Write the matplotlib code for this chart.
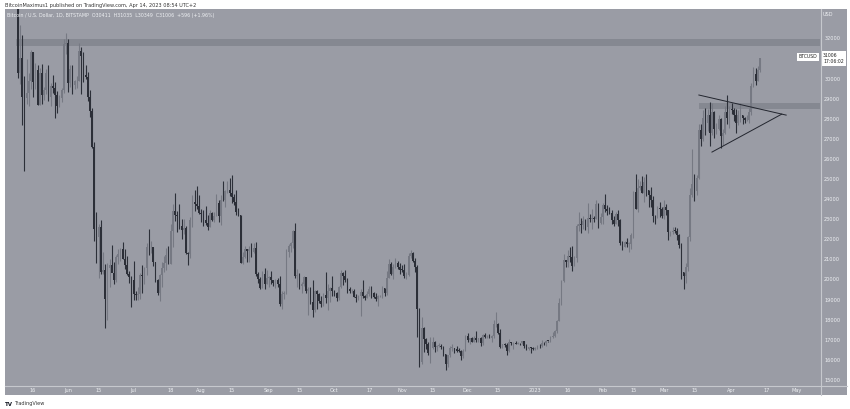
import numpy as np
import pandas as pd
import matplotlib
matplotlib.use("Agg")
import matplotlib.pyplot as plt
import matplotlib.dates as mdates
import matplotlib.transforms as mtransforms
from matplotlib.lines import Line2D
from matplotlib.patches import Rectangle

# BTCUSD daily (Bitstamp), 2022-05-09 .. 2023-04-14
first_open = 34060
closes = [
    # May
    30300, 31000, 29080, 29050, 29280, 29860, 31300, 29850, 30440, 28700, 30300, 29200, 29430, 30300,
    29100, 29650, 29530, 29200, 28620, 29030, 29450, 31700, 31780,
    # Jun
    29800, 30450, 29700, 29860, 29900, 31370, 31130, 30200, 30100, 29090, 28400, 26570, 22500, 22110,
    22600, 20390, 20470, 19020, 20560, 20700, 20300, 19960, 21100, 21250, 21500, 21030, 20730, 20260,
    20100, 19950,
    # Jul
    19290, 19250, 19300, 20230, 20190, 20560, 21640, 21600, 21600, 20850, 19970, 19320, 20220, 20580,
    20830, 21200, 20790, 22420, 23400, 23230, 23160, 22680, 22450, 22580, 21310, 21250, 22960, 23850,
    23780, 23640, 23300,
    # Aug
    23270, 22980, 22820, 22620, 23310, 22960, 23170, 23810, 23160, 23950, 23940, 24400, 24440, 24300,
    24100, 23860, 23340, 23200, 20830, 21140, 21520, 21400, 21530, 21370, 21560, 20250, 20030, 19560,
    20290, 19800, 20050,
    # Sep
    20130, 19960, 19830, 19990, 19800, 18800, 19290, 19320, 21360, 21650, 21830, 22400, 20180, 20220,
    19700, 19800, 20110, 19420, 19540, 18880, 18490, 19410, 19290, 18920, 18800, 19230, 19080, 19410,
    19590, 19420,
    # Oct
    19310, 19060, 19630, 20340, 20160, 19960, 19530, 19420, 19450, 19140, 19060, 19160, 19380, 19180,
    19070, 19270, 19550, 19330, 19130, 19040, 19170, 19200, 19570, 19330, 20090, 20770, 20290, 20600,
    20820, 20630, 20490,
    # Nov
    20480, 20150, 20210, 21150, 21300, 20900, 20600, 18550, 15900, 17600, 17050, 16800, 16330, 16600,
    16900, 16650, 16690, 16700, 16650, 16280, 15780, 16220, 16600, 16600, 16520, 16460, 16440, 16210,
    16440, 17170,
    # Dec
    16980, 17090, 16890, 17110, 16970, 17090, 16840, 17230, 17130, 17130, 17090, 17210, 17780, 17810,
    17360, 16630, 16780, 16740, 16440, 16900, 16820, 16830, 16780, 16840, 16830, 16920, 16700, 16550,
    16630, 16600, 16540,
    # Jan
    16610, 16680, 16670, 16850, 16830, 16950, 16940, 17120, 17180, 17440, 17940, 18850, 19930, 20950,
    20880, 21180, 21130, 20680, 21070, 22670, 22780, 22710, 22920, 22630, 23060, 23010, 23080, 23030,
    23750, 22830, 23130,
    # Feb
    23730, 23490, 23430, 23330, 22940, 22760, 23260, 22960, 21800, 21630, 21860, 21780, 21780, 22200,
    24330, 23520, 24570, 24630, 24300, 24840, 24440, 24190, 23940, 23180, 23150, 23560, 23490, 23140,
    # Mar
    23630, 23470, 22350, 22350, 22430, 22410, 22200, 21700, 20360, 20190, 20630, 22130, 24200, 24740,
    24380, 25050, 27420, 26970, 28030, 27800, 28200, 27300, 28320, 27480, 27480, 27990, 27130, 27270,
    28350, 28030, 28470,
    # Apr
    28450, 28200, 27800, 28170, 28170, 28040, 27920, 27950, 28330, 29650, 30230, 29890, 30411, 31006,
]
highs = [
    34250, 32650, 32150, 30150, 30970, 30300, 31400, 31300, 30780, 30660, 30520, 30730, 29600, 30450,
    30650, 29800, 30200, 29850, 29370, 29200, 29550, 31960, 32250,
    31960, 30650, 30670, 29930, 30150, 31750, 31560, 31320, 30680, 30330, 29440, 28550, 26860, 23340,
    22760, 22980, 21350, 20760, 20800, 21000, 21720, 20860, 21220, 21500, 21590, 21870, 21530, 21180,
    20400, 20150,
    20900, 19420, 19640, 20300, 20720, 20640, 21840, 22500, 21920, 21600, 20860, 20040, 20260, 20860,
    21170, 21560, 21650, 22740, 23750, 24280, 23430, 23750, 22990, 22990, 22650, 21350, 23100, 24200,
    24450, 24650, 24200,
    23500, 23460, 23650, 23220, 23460, 23350, 23370, 24230, 23940, 24210, 24900, 24460, 24880, 25050,
    25210, 24240, 24440, 23580, 23200, 21380, 21680, 21520, 21660, 21800, 21820, 21880, 20360, 20140,
    20400, 20560, 20480,
    20190, 20440, 19970, 20030, 20050, 20170, 19450, 19450, 21500, 21780, 21860, 22470, 22790, 20540,
    20320, 19870, 20170, 20100, 19650, 19630, 19950, 19490, 19480, 19310, 19180, 19310, 20360, 19770,
    19630, 20160,
    19480, 19390, 19700, 20470, 20370, 20450, 20060, 19610, 19520, 19530, 19270, 19220, 19510, 19950,
    19230, 19420, 19680, 19700, 19360, 19350, 19250, 19250, 19690, 19600, 20410, 21020, 20870, 20750,
    21080, 20930, 20840,
    20700, 20790, 20390, 21300, 21470, 21360, 21050, 20700, 18600, 18150, 17650, 17090, 16880, 17160,
    17120, 16960, 16740, 16860, 16800, 16690, 16300, 16250, 16700, 16810, 16600, 16680, 16600, 16480,
    16530, 17250,
    17320, 17100, 17150, 17200, 17430, 17100, 17140, 17300, 17350, 17230, 17270, 17240, 18000, 18390,
    17850, 17530, 16800, 16860, 16820, 17060, 16910, 16870, 16950, 16870, 16860, 16940, 16960, 16780,
    16650, 16640, 16640,
    16630, 16760, 16770, 16980, 16880, 17000, 16960, 17170, 17390, 17490, 17990, 19100, 19960, 21250,
    20990, 21450, 21630, 21650, 21190, 22740, 23380, 23080, 23160, 23000, 23800, 23270, 23500, 23170,
    23960, 23810, 23320,
    23790, 24250, 23700, 23590, 23440, 23160, 23340, 23440, 22990, 21930, 21900, 22080, 21880, 22310,
    24380, 25250, 25020, 24880, 25170, 25120, 25260, 24460, 24600, 24130, 23220, 23680, 23880, 23590,
    23960, 23780, 23480, 22420, 22610, 22600, 22540, 22270, 21820, 20360, 20800, 22180, 24570, 26500,
    25240, 25200, 27750, 27750, 28430, 28530, 28480, 28820, 28800, 28380, 27790, 28200, 28040, 27500,
    28650, 29170, 28650,
    28800, 28530, 28490, 28440, 28760, 28180, 28100, 28170, 28530, 29770, 30550, 30500, 30600, 31035,
]
lows = [
    30030, 29750, 27700, 25400, 28750, 28620, 29480, 29100, 29480, 28660, 28700, 28750, 28950, 29250,
    28880, 28650, 29300, 28020, 28280, 28570, 28850, 29300, 31200,
    29330, 29600, 29250, 29480, 29520, 29880, 29240, 29840, 29960, 28860, 28100, 26550, 21920, 20830,
    20070, 20250, 20250, 17600, 17970, 19650, 20360, 19780, 19900, 20780, 20910, 21000, 20520, 20200,
    19850, 18630,
    19000, 19000, 18960, 19050, 19320, 19760, 20240, 21220, 21340, 20670, 19880, 19240, 18920, 19630,
    20390, 20480, 20780, 20770, 21600, 22910, 22340, 22500, 22000, 22270, 21250, 20710, 21050, 22600,
    23420, 23500, 23250,
    22850, 22680, 22700, 22450, 22590, 22930, 22840, 23150, 22880, 22690, 23900, 23620, 24300, 24150,
    23790, 23700, 23200, 23140, 20800, 20760, 21060, 20890, 20870, 21140, 21320, 20150, 19840, 19550,
    19560, 19550, 19800,
    19650, 19760, 19680, 19600, 19650, 18660, 18540, 19020, 19300, 21130, 21360, 21570, 20060, 19620,
    19510, 19330, 19700, 19350, 18250, 18780, 18140, 18360, 18540, 18830, 18630, 18680, 18840, 18480,
    18860, 19170,
    19170, 18950, 19000, 19600, 19750, 19880, 19330, 19320, 19320, 19110, 18870, 18970, 18170, 19080,
    18990, 19060, 19160, 19100, 19070, 18930, 18660, 19120, 19080, 19160, 19240, 20060, 20200, 20000,
    20560, 20520, 20250,
    20350, 20050, 20040, 20180, 21080, 20890, 20390, 17150, 15650, 15800, 16400, 16550, 16250, 15820,
    16540, 16400, 16420, 16620, 16560, 16180, 15480, 15630, 16160, 16460, 16360, 16400, 16400, 16000,
    16110, 16430,
    16870, 16800, 16880, 16880, 16880, 16910, 16700, 16740, 17100, 17090, 17070, 16870, 17080, 17660,
    17280, 16580, 16590, 16660, 16260, 16400, 16720, 16560, 16780, 16780, 16730, 16790, 16600, 16470,
    16490, 16340, 16480,
    16500, 16550, 16600, 16660, 16750, 16690, 16910, 16910, 17100, 17150, 17320, 17910, 18720, 19900,
    20600, 20620, 20870, 20410, 20660, 20880, 22430, 22330, 22530, 22470, 22330, 22870, 22530, 22880,
    23020, 22570, 22740,
    22760, 23380, 23220, 23260, 22760, 22640, 22750, 22680, 21700, 21450, 21610, 21620, 21350, 21530,
    22050, 23510, 23340, 24460, 24290, 23860, 24150, 23600, 23630, 22850, 22780, 23080, 23120, 23040,
    23030, 23200, 21980, 22150, 22250, 22290, 21950, 21580, 20040, 19550, 19850, 20400, 21900, 24090,
    23920, 24200, 25020, 26660, 26880, 27180, 27400, 26640, 27170, 27040, 27220, 27450, 26560, 26670,
    27250, 27720, 27550,
    28260, 27880, 27280, 27680, 27830, 27720, 27770, 27870, 27800, 28170, 29600, 29670, 29860, 30349,
]

# drawings: resistance zones (low, high, start date) and triangle sides
zones = [(31600, 31980, "2022-05-08"), (28480, 28790, "2023-03-17")]
tri_upper_dates = ["2023-03-17", "2023-04-26"]
tri_upper_prices = [29180, 28180]
tri_lower_dates = ["2023-03-23", "2023-04-24"]
tri_lower_prices = [26340, 28230]

# 31000 sits under the last-price box on the scale
price_ticks = [p for p in range(15000, 33000, 1000) if p != 31000]
time_ticks = ["2022-05-16", "2022-06-01", "2022-06-15", "2022-07-01", "2022-07-18", "2022-08-01",
              "2022-08-15", "2022-09-01", "2022-09-15", "2022-10-01", "2022-10-17", "2022-11-01",
              "2022-11-15", "2022-12-01", "2022-12-15", "2023-01-01", "2023-01-16", "2023-02-01",
              "2023-02-15", "2023-03-01", "2023-03-15", "2023-04-01", "2023-04-17", "2023-05-01"]
time_labels = ["16", "Jun", "15", "Jul", "18", "Aug", "15", "Sep", "15", "Oct", "17", "Nov",
               "15", "Dec", "15", "2023", "16", "Feb", "15", "Mar", "15", "Apr", "17", "May"]

BG = "#9a9ca5"
UP = "#767983"
DOWN = "#2c2f38"
ZONE = "#80838c"
LINE = "#c6c8cd"
TXT = "#eef0f3"

dates = pd.date_range("2022-05-09", periods=len(closes), freq="D")
x = mdates.date2num(dates)
c = np.array(closes, dtype=float)
o = np.array([first_open] + closes[:-1], dtype=float)
h = np.array(highs, dtype=float)
l = np.array(lows, dtype=float)
up = c >= o

W, H = 850, 409
fig = plt.figure(figsize=(8.5, 4.09), dpi=100)
fig.patch.set_facecolor("white")
fig.patches.append(Rectangle((5 / W, 1 - 395 / H), 842 / W, 386 / H, transform=fig.transFigure,
                             facecolor=BG, edgecolor="none", zorder=-1))
ax = fig.add_axes([5 / W, 1 - 385 / H, 815 / W, 376 / H])
ax.set_facecolor(BG)
for s in ax.spines.values():
    s.set_visible(False)

x0 = mdates.date2num(pd.Timestamp("2022-06-01"))
ax.set_xlim(x0 - 28.9, x0 + 344.5)
ax.set_ylim(14750, 33460)

for lo, hi, start in zones:
    xs = mdates.date2num(pd.Timestamp(start))
    ax.add_patch(Rectangle((xs, lo), 400, hi - lo, facecolor=ZONE, edgecolor="none", alpha=0.8, zorder=1))

body = np.maximum(np.abs(c - o), 30)
bottom = np.minimum(o, c)
for mask, col in [(up, UP), (~up, DOWN)]:
    ax.vlines(x[mask], l[mask], h[mask], color=col, lw=0.8, zorder=2)
    ax.bar(x[mask], body[mask], bottom=bottom[mask], width=0.75, color=col, lw=0, zorder=3)

ax.plot(mdates.date2num(pd.to_datetime(tri_upper_dates)), tri_upper_prices, color="#22252e", lw=0.7, zorder=4)
ax.plot(mdates.date2num(pd.to_datetime(tri_lower_dates)), tri_lower_prices, color="#22252e", lw=0.7, zorder=4)

ax.yaxis.tick_right()
ax.set_yticks(price_ticks)
ax.set_yticklabels([str(p) for p in price_ticks])
ax.tick_params(axis="y", length=0, pad=3, labelsize=3.6, labelcolor=TXT)
ax.set_xticks(mdates.date2num(pd.to_datetime(time_ticks)))
ax.set_xticklabels(time_labels)
ax.tick_params(axis="x", length=0, pad=2.5, labelsize=3.6, labelcolor=TXT)

# separators of the price and time scales
fig.add_artist(Line2D([5 / W, 847 / W], [1 - 385.5 / H] * 2, color=LINE, lw=0.8))
fig.add_artist(Line2D([820.5 / W] * 2, [1 - 9 / H, 1 - 395 / H], color=LINE, lw=0.8))

# last price labels
tr = mtransforms.blended_transform_factory(fig.transFigure, ax.transData)
ax.text(823 / W, closes[-1], "31006\n17:06:02", transform=tr, fontsize=3.3, color="#222", va="center",
        ha="left", linespacing=1.1, bbox=dict(boxstyle="square,pad=0.5", fc="white", ec="none"),
        zorder=6, clip_on=False)
ax.text(817 / W, closes[-1] + 80, "BTCUSD", transform=tr, fontsize=3.3, color="#222", va="center",
        ha="right", bbox=dict(boxstyle="square,pad=0.35", fc="white", ec="none"), zorder=6)
fig.text(823 / W, 1 - 15 / H, "USD", fontsize=3.6, color=TXT, va="center")

fig.text(5 / W, 1 - 5 / H, "BitcoinMaximus1 published on TradingView.com, Apr 14, 2023 08:54 UTC+2",
         fontsize=3.6, color="#333", va="center")
fig.text(7 / W, 1 - 16 / H,
         "Bitcoin / U.S. Dollar, 1D, BITSTAMP  O30411  H31035  L30349  C31006  +596 (+1.96%)",
         fontsize=3.4, color=TXT, va="center")
fig.text(5 / W, 1 - 404 / H, "TV", fontsize=4, weight="bold", color="#131722", va="center")
fig.text(14 / W, 1 - 404 / H, "TradingView", fontsize=3.6, color="#333", va="center")

fig.savefig("out.png", dpi=100, facecolor="white")
